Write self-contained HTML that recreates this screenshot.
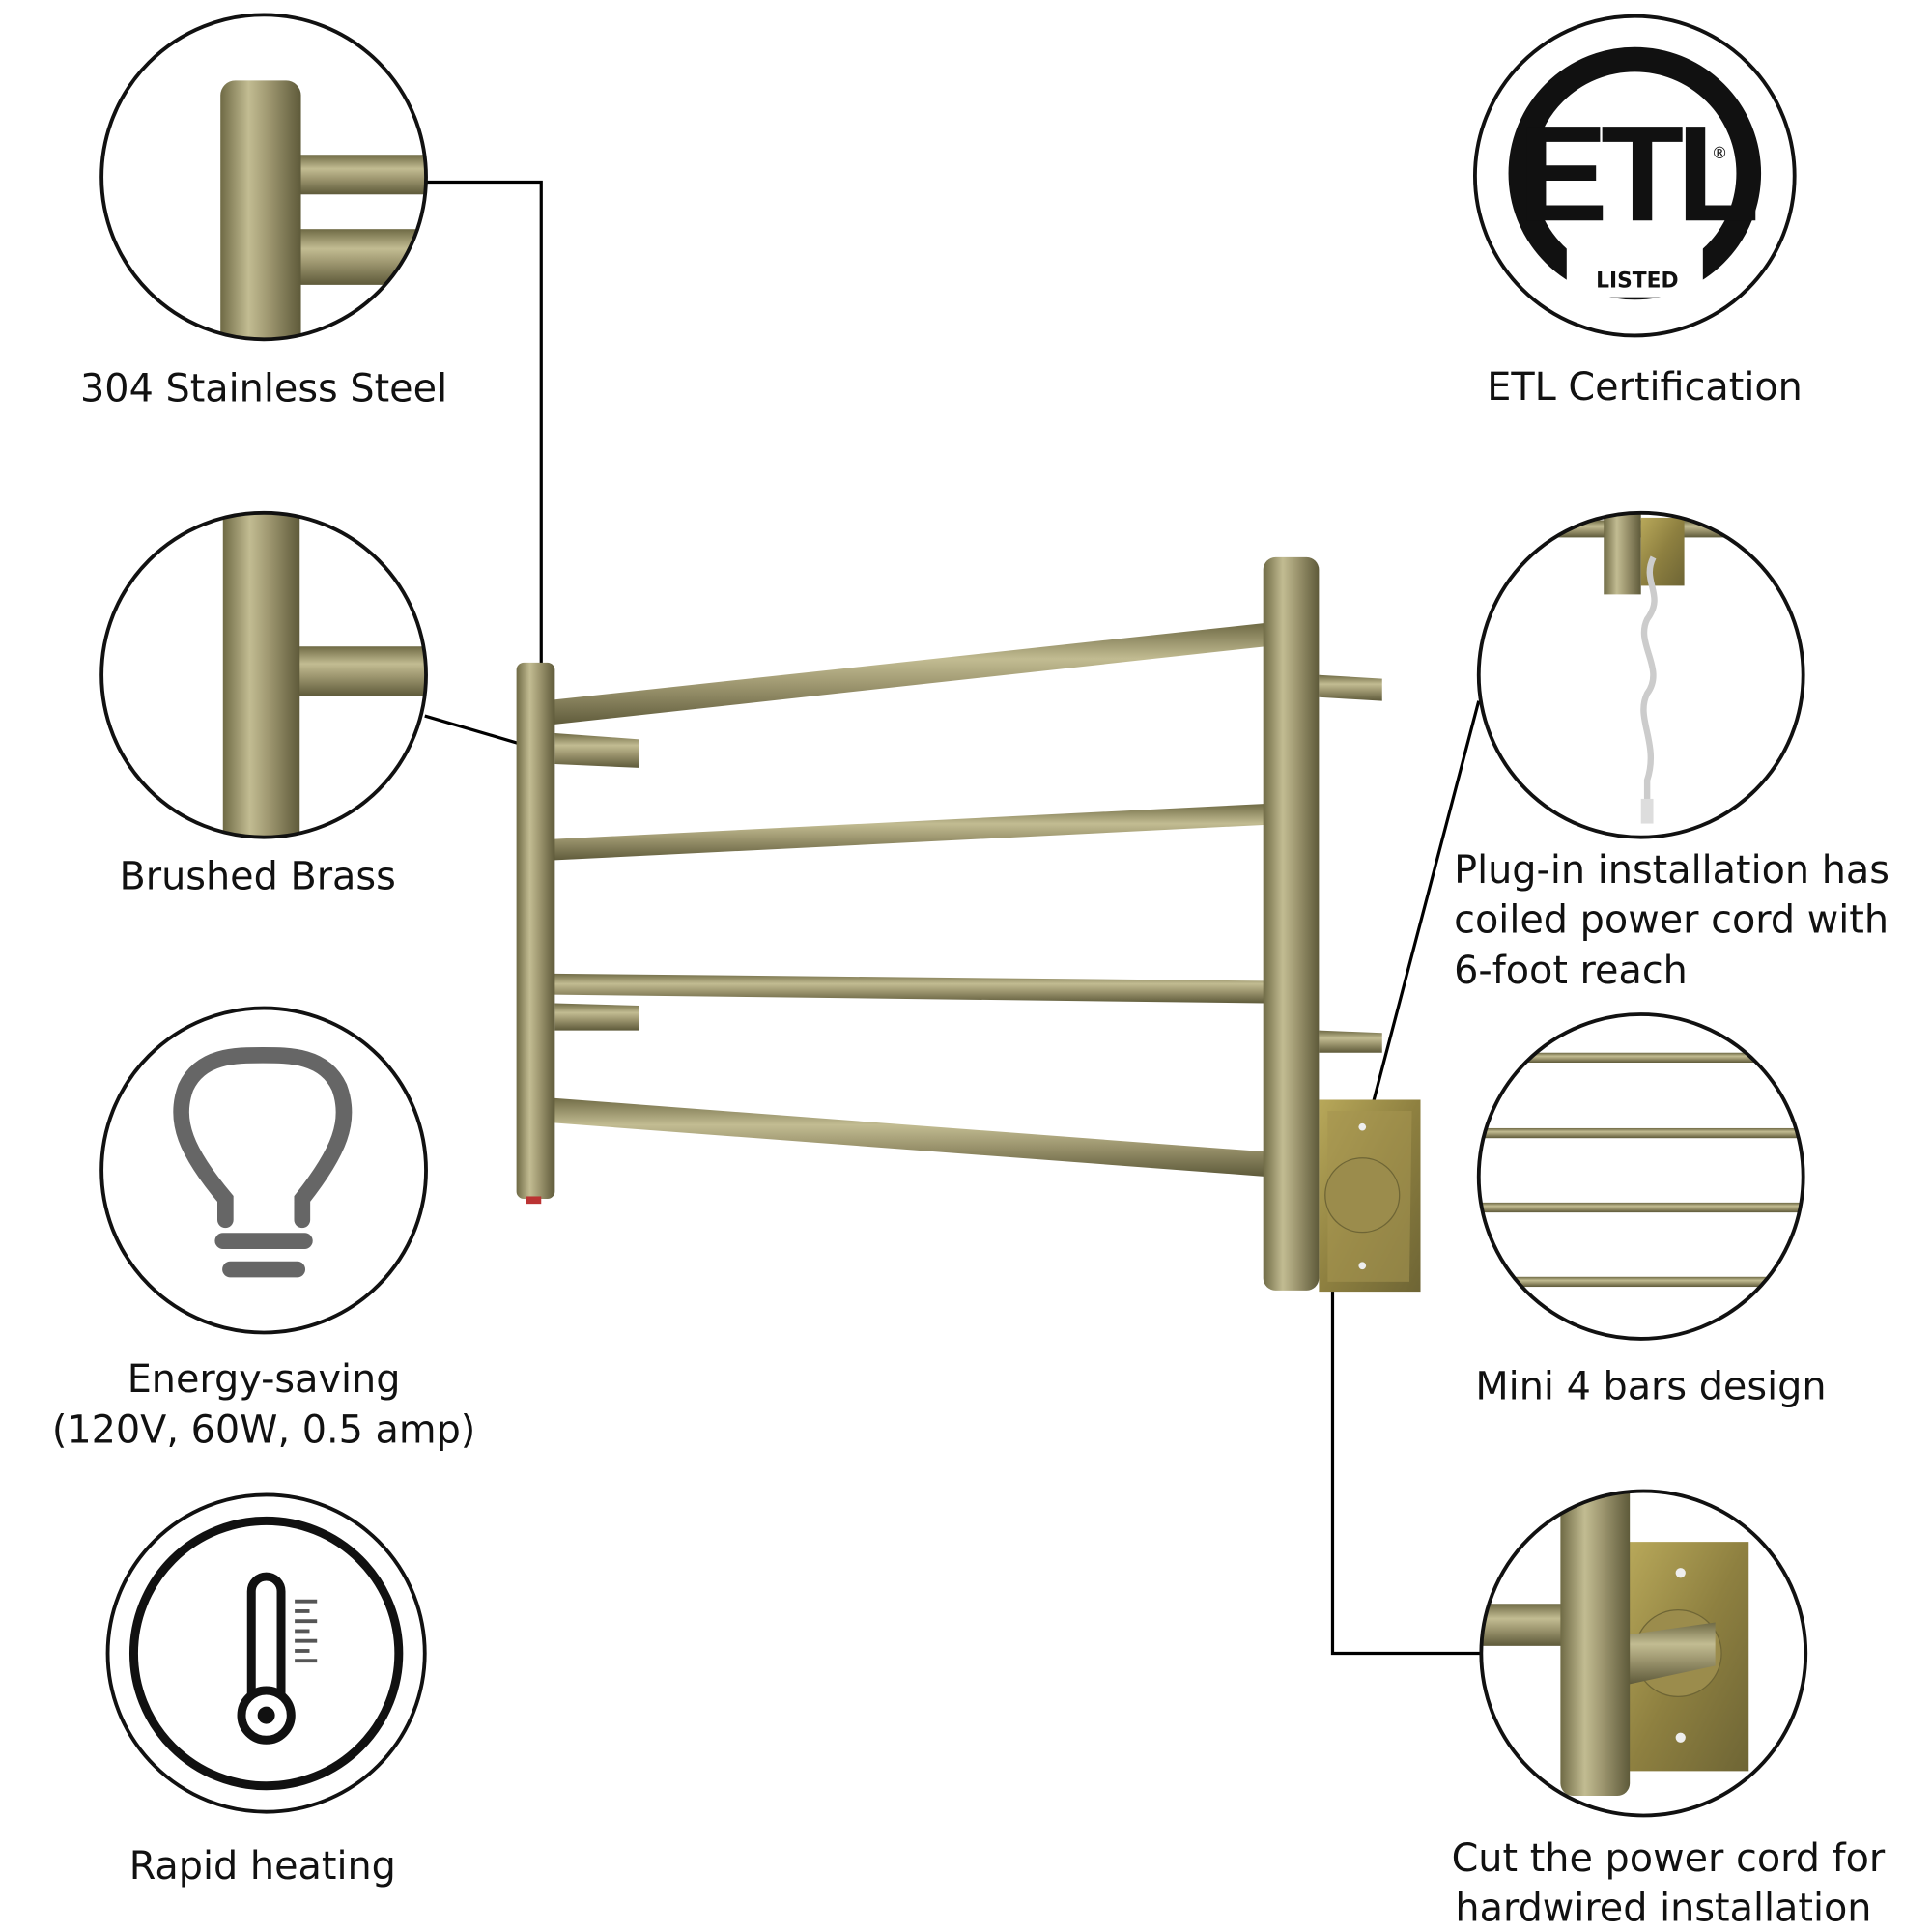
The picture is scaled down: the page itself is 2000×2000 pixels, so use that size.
<!DOCTYPE html>
<html><head><meta charset="utf-8"><style>html,body{margin:0;padding:0;background:#fff}svg{display:block}</style></head>
<body>
<svg width="2000" height="2000" viewBox="0 0 1560 1560" xmlns="http://www.w3.org/2000/svg" font-family="'DejaVu Sans','Liberation Sans',sans-serif">
<defs>
<linearGradient id="v" x1="0" x2="1" y1="0" y2="0"><stop offset="0" stop-color="#6f6a45"/><stop offset=".35" stop-color="#c2bc92"/><stop offset=".6" stop-color="#9e9770"/><stop offset="1" stop-color="#5e5a3a"/></linearGradient>
<linearGradient id="h" x1="0" x2="0" y1="0" y2="1"><stop offset="0" stop-color="#6f6a45"/><stop offset=".35" stop-color="#c2bc92"/><stop offset=".6" stop-color="#9e9770"/><stop offset="1" stop-color="#5e5a3a"/></linearGradient>
<linearGradient id="p" x1="0" x2="1" y1="0" y2="1"><stop offset="0" stop-color="#b8a85a"/><stop offset=".5" stop-color="#8e8040"/><stop offset="1" stop-color="#6e6535"/></linearGradient>
<clipPath id="c1"><circle cx="213" cy="143" r="131"/></clipPath>
<clipPath id="c2"><circle cx="213" cy="545" r="131"/></clipPath>
<clipPath id="c6"><circle cx="1325" cy="545" r="131"/></clipPath>
<clipPath id="c7"><circle cx="1325" cy="950" r="131"/></clipPath>
<clipPath id="c8"><circle cx="1327" cy="1335" r="131"/></clipPath>
</defs>
<rect width="1560" height="1560" fill="#fff"/>

<g fill="none" stroke="#000" stroke-width="2.5">
<polyline points="345,147 437,147 437,537"/>
<line x1="343" y1="578" x2="428" y2="603"/>
<polyline points="1194,566 1076,1015 1076,1335 1196,1335"/>
</g>

<g>
<polygon points="1065,545 1116,548 1116,566 1065,563" fill="url(#h)"/>
<polygon points="1065,832 1116,834 1116,850 1065,850" fill="url(#h)"/>
<polygon points="448,592 516,597 516,620 448,617" fill="url(#h)"/>
<polygon points="448,810 516,812 516,832 448,832" fill="url(#h)"/>
<polygon points="438,566 1022,503 1022,522 438,586" fill="url(#h)"/>
<polygon points="438,678 1022,649 1022,666 438,695" fill="url(#h)"/>
<polygon points="438,786 1022,792 1022,810 438,803" fill="url(#h)"/>
<polygon points="438,886 1022,930 1022,950 438,906" fill="url(#h)"/>
<rect x="417" y="535" width="31" height="433" rx="6" fill="url(#v)"/>
<rect x="425" y="966" width="12" height="6" fill="#b33"/>
<polygon points="1065,888 1147,888 1147,1043 1065,1043" fill="url(#p)"/>
<polygon points="1072,897 1140,897 1138,1035 1072,1035" fill="#a59450" opacity=".6"/>
<ellipse cx="1100" cy="965" rx="30" ry="30" fill="#9b8c4c" stroke="#6e6535"/>
<circle cx="1100" cy="910" r="3" fill="#eee"/><circle cx="1100" cy="1022" r="3" fill="#eee"/>
<rect x="1020" y="450" width="45" height="592" rx="10" fill="url(#v)"/>
</g>

<g clip-path="url(#c1)">
<rect x="240" y="125" width="110" height="32" fill="url(#h)"/>
<rect x="240" y="185" width="110" height="45" fill="url(#h)"/>
<rect x="178" y="65" width="65" height="220" rx="12" fill="url(#v)"/>
</g>
<circle cx="213" cy="143" r="131" fill="none" stroke="#111" stroke-width="3"/>
<g clip-path="url(#c2)">
<rect x="215" y="522" width="140" height="40" fill="url(#h)"/>
<rect x="180" y="405" width="62" height="290" fill="url(#v)"/>
</g>
<circle cx="213" cy="545" r="131" fill="none" stroke="#111" stroke-width="3"/>
<circle cx="213" cy="945" r="131" fill="none" stroke="#111" stroke-width="3"/>
<g fill="none" stroke="#666" stroke-width="13" stroke-linecap="round">
<path d="M182,985 L182,968 C150,930 140,905 150,878 C162,852 190,852 212,852 C234,852 262,852 274,878 C284,905 274,930 244,968 L244,985"/>
<line x1="180" y1="1002" x2="246" y2="1002"/><line x1="186" y1="1025" x2="240" y2="1025"/>
</g>
<circle cx="215" cy="1335" r="128" fill="none" stroke="#111" stroke-width="3"/>
<circle cx="215" cy="1335" r="107" fill="none" stroke="#111" stroke-width="7"/>
<g stroke="#111" fill="none" stroke-width="7">
<path d="M203,1370 L203,1285 A12,12 0 0 1 227,1285 L227,1370"/>
<circle cx="215" cy="1385" r="20"/>
</g>
<circle cx="215" cy="1385" r="7" fill="#111"/>
<g stroke="#555" stroke-width="3"><line x1="238" y1="1293" x2="256" y2="1293"/><line x1="238" y1="1301" x2="250" y2="1301"/><line x1="238" y1="1309" x2="256" y2="1309"/><line x1="238" y1="1317" x2="250" y2="1317"/><line x1="238" y1="1325" x2="256" y2="1325"/><line x1="238" y1="1333" x2="250" y2="1333"/><line x1="238" y1="1341" x2="256" y2="1341"/></g>

<circle cx="1320" cy="142" r="129" fill="none" stroke="#111" stroke-width="3"/>
<circle cx="1320" cy="140" r="92" fill="none" stroke="#111" stroke-width="20"/>
<rect x="1265" y="200" width="110" height="40" fill="#fff"/>
<text x="1320" y="178" text-anchor="middle" font-size="110" font-weight="bold" font-family="'Liberation Sans',sans-serif" fill="#111" letter-spacing="-6">ETL</text>
<text x="1322" y="232" text-anchor="middle" font-size="17" font-weight="bold" fill="#111">LISTED</text>
<text x="1382" y="128" font-size="13" fill="#111">®</text>
<g clip-path="url(#c6)">
<rect x="1250" y="420" width="150" height="14" fill="url(#h)"/>
<rect x="1295" y="412" width="30" height="68" fill="url(#v)"/>
<rect x="1325" y="418" width="35" height="55" fill="url(#p)"/>
<path d="M1335,450 C1325,470 1345,480 1330,500 C1320,520 1345,540 1330,560 C1320,580 1340,600 1330,630 L1330,650" fill="none" stroke="#ccc" stroke-width="5"/>
<rect x="1325" y="645" width="10" height="20" fill="#ddd"/>
</g>
<circle cx="1325" cy="545" r="131" fill="none" stroke="#111" stroke-width="3"/>
<g clip-path="url(#c7)">
<rect x="1180" y="850" width="300" height="8" fill="url(#h)"/>
<rect x="1180" y="911" width="300" height="8" fill="url(#h)"/>
<rect x="1180" y="971" width="300" height="8" fill="url(#h)"/>
<rect x="1180" y="1031" width="300" height="8" fill="url(#h)"/>
</g>
<circle cx="1325" cy="950" r="131" fill="none" stroke="#111" stroke-width="3"/>
<g clip-path="url(#c8)">
<rect x="1190" y="1295" width="80" height="34" fill="url(#h)"/>
<rect x="1265" y="1188" width="50" height="6" fill="url(#h)"/>
<polygon points="1315,1245 1412,1245 1412,1430 1315,1430" fill="url(#p)"/>
<ellipse cx="1355" cy="1335" rx="35" ry="35" fill="#9b8c4c" stroke="#6e6535"/>
<polygon points="1315,1320 1385,1310 1385,1345 1315,1360" fill="url(#h)"/>
<circle cx="1357" cy="1270" r="4" fill="#eee"/><circle cx="1357" cy="1403" r="4" fill="#eee"/>
<rect x="1260" y="1190" width="56" height="260" rx="10" fill="url(#v)"/>
</g>
<circle cx="1327" cy="1335" r="131" fill="none" stroke="#111" stroke-width="3"/>

<g font-size="31" fill="#111">
<text x="213" y="324" text-anchor="middle">304 Stainless Steel</text>
<text x="208" y="718" text-anchor="middle">Brushed Brass</text>
<text x="213" y="1124" text-anchor="middle">Energy-saving</text>
<text x="213" y="1165" text-anchor="middle">(120V, 60W, 0.5 amp)</text>
<text x="212" y="1517" text-anchor="middle">Rapid heating</text>
<text x="1328" y="323" text-anchor="middle">ETL Certification</text>
<text x="1174" y="713">Plug-in installation has</text>
<text x="1174" y="753">coiled power cord with</text>
<text x="1174" y="794">6-foot reach</text>
<text x="1333" y="1130" text-anchor="middle">Mini 4 bars design</text>
<text x="1172" y="1511">Cut the power cord for</text>
<text x="1175" y="1551">hardwired installation</text>
</g>
</svg>
</body></html>
